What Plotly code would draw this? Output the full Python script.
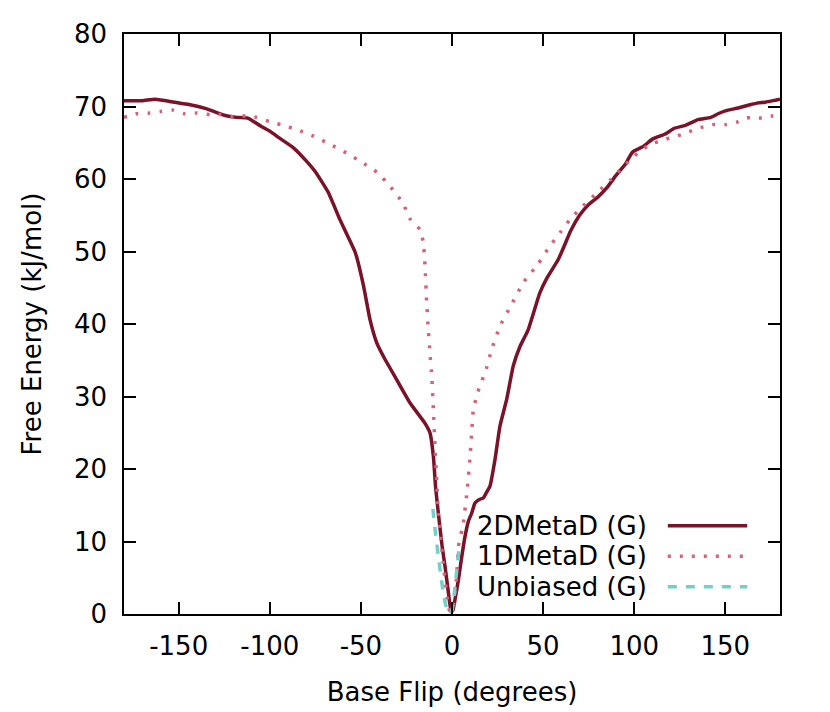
import plotly.graph_objects as go

# 2DMetaD (G)
x_2d = [-180, -170, -163, -155, -145, -135, -125, -118, -112, -105, -100, -95, -87, -80, -75,
        -68, -61.5, -57, -53, -48.5, -45, -41.3, -36.7, -30.3, -23, -14.8, -12.1, -10.2, -9,
        -7.5, -5.5, -3.8, -2, -0.5, 0.5, 2, 3.5, 5, 7, 9, 10.8, 12.6, 15, 17.2, 19, 20.8, 23.6,
        26.3, 30, 33.6, 37.3, 41.8, 48.2, 52, 58.3, 62, 65, 70, 75, 80, 85, 90, 95, 99, 105,
        110, 117, 122, 128, 135, 142, 146, 150, 157, 163, 168, 172, 178, 180]
y_2d = [70.8, 70.8, 71.0, 70.7, 70.3, 69.7, 68.8, 68.5, 68.4, 67.3, 66.6, 65.7, 64.3, 62.5, 61.0,
        58.2, 54.4, 52.0, 49.8, 45.2, 40.6, 37.4, 35.1, 32.3, 29.1, 26.3, 25.0, 21.7, 17.5,
        13.9, 9.5, 6.5, 3.0, 0.3, 0.5, 2.5, 4.7, 7.3, 10.5, 12.8, 13.9, 15.3, 15.8, 16.0,
        16.8, 17.6, 21.3, 25.9, 29.6, 34.2, 36.9, 39.2, 44.3, 46.3, 48.9, 51.0, 52.8, 55.0,
        56.5, 57.5, 58.8, 60.5, 62.0, 63.7, 64.5, 65.5, 66.2, 67.0, 67.4, 68.2, 68.5, 69.0,
        69.4, 69.8, 70.2, 70.5, 70.6, 70.9, 71.0]

# 1DMetaD (G)
x_1d = [-180, -173, -166, -160, -153, -147, -140, -133, -127, -120, -113, -107, -100, -94, -85,
        -76, -67, -58, -50, -41, -34, -27, -23, -17.5, -15.7, -14.8, -13.9, -13, -12.1, -11.1,
        -10.2, -9.3, -8.4, -7.5, -4.8, -2, -1, 0, 1, 2.5, 3.5, 6.2, 8.5, 9.9, 10.8, 11.7,
        13.5, 15.4, 18.1, 21.8, 26.3, 32.7, 39.1, 47.3, 53, 59.3, 65, 72, 80, 87, 92, 98, 103,
        109, 115, 120, 127, 133, 138, 143, 150, 156, 160, 164, 170, 176, 180]
y_1d = [68.5, 69.0, 69.1, 69.3, 69.5, 69.0, 69.1, 68.9, 68.9, 68.6, 68.7, 68.5, 67.9, 67.5, 66.8,
        65.9, 64.8, 63.6, 62.4, 60.9, 59.0, 56.7, 54.5, 53.0, 51.2, 48.0, 43.0, 39.2, 36.0,
        32.8, 28.0, 23.0, 18.5, 13.9, 7.0, 1.0, 0.3, 0.3, 1.5, 5.0, 9.3, 12.5, 17.5, 21.7,
        25.0, 28.2, 30.0, 31.6, 33.2, 36.5, 39.7, 42.7, 45.7, 48.3, 50.5, 52.6, 54.5, 56.3,
        58.2, 59.9, 61.2, 62.7, 63.8, 64.8, 65.3, 65.7, 66.2, 66.8, 67.2, 67.5, 67.5, 67.8,
        68.3, 68.5, 68.4, 68.7, 68.6]

# Unbiased (G)
x_ub = [-10.5, -9, -7.5, -6, -4.5, -3, -2, -1, 0, 1, 2, 3, 4]
y_ub = [14.5, 11.0, 8.0, 5.0, 2.5, 0.8, 0.2, 0.0, 0.5, 2.2, 4.5, 7.0, 9.5]

x_ticks = [-150, -100, -50, 0, 50, 100, 150]
x_ticklabels = ["-150", "-100", "-50", "0", "50", "100", "150"]
y_ticks = [0, 10, 20, 30, 40, 50, 60, 70, 80]

names = ["2DMetaD (G)", "1DMetaD (G)", "Unbiased (G)"]
colors = ["#7a1228", "#d0647a", "#72cfca"]
dashes = ["solid", "3px,9px", "9px,9px"]

FONT = dict(family="DejaVu Sans", size=26, color="black")

fig = go.Figure()
for xs, ys, c, d, n in zip([x_2d, x_1d, x_ub], [y_2d, y_1d, y_ub], colors, dashes, names):
    fig.add_trace(go.Scatter(x=xs, y=ys, mode="lines", name=n,
                             line=dict(color=c, width=3.5, dash=d, shape="spline", smoothing=0.4)))

# gnuplot-style legend: text on the left, line sample on the right
for i, (n, c, d) in enumerate(zip(names, colors, dashes)):
    yy = 0.152 - i * 0.0525
    fig.add_annotation(x=0.80, y=yy, xref="paper", yref="paper", text=n,
                       showarrow=False, xanchor="right", yanchor="middle", font=FONT)
    fig.add_shape(type="line", xref="paper", yref="paper", x0=0.829, x1=0.950, y0=yy, y1=yy,
                  line=dict(color=c, width=3.5, dash=d))

axis = dict(showline=True, mirror="ticks", linecolor="black", linewidth=1.5,
            ticks="inside", ticklen=12, tickwidth=1.5, tickcolor="black",
            showgrid=False, zeroline=False, tickfont=FONT, automargin=False)

fig.update_xaxes(range=[-180, 180], tickvals=x_ticks, ticktext=x_ticklabels,
                 title=dict(text="Base Flip (degrees)", font=FONT, standoff=23),
                 ticklabelstandoff=8, **axis)
fig.update_yaxes(range=[0, 80], tickvals=y_ticks,
                 title=dict(text="Free Energy (kJ/mol)", font=FONT, standoff=25),
                 ticklabelstandoff=10, **axis)

# page body has an 8px margin, so size the figure to fit the 830x712 window
fig.update_layout(width=822, height=704, showlegend=False,
                  plot_bgcolor="white", paper_bgcolor="white",
                  margin=dict(l=116, r=50, t=26, b=98))

fig.write_html("out.html")
